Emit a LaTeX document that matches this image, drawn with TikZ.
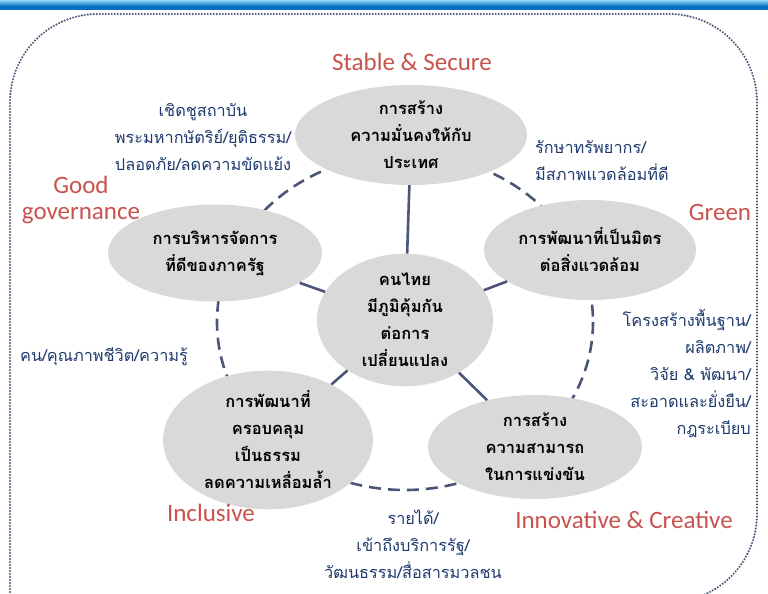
\documentclass[tikz,border=0pt]{standalone}
\usepackage{fontspec}
\setmainfont{Carlito}
\newfontfamily\thai[Script=Thai]{Loma}
\usetikzlibrary{shapes.geometric}
\definecolor{bubgray}{HTML}{D9D9D9}
\definecolor{linkc}{HTML}{4A5578}
\definecolor{navy}{HTML}{1F3A6E}
\definecolor{catred}{HTML}{C9524D}
\definecolor{dotc}{HTML}{4A5675}
\definecolor{barblue}{HTML}{0A6FC2}
\definecolor{barlight}{HTML}{7CC8F0}
\tikzset{
  bub/.style={ellipse, fill=bubgray, draw=none, inner sep=0pt, align=center,
    font=\thai\bfseries\fontsize{16.5}{27}\selectfont, text=black},
  side/.style={inner sep=0pt, font=\thai\fontsize{16.3}{27}\selectfont, text=navy},
  cat/.style={inner sep=0pt, font=\fontsize{25}{26}\selectfont, text=catred},
  link/.style={draw=linkc, line width=2.6pt},
  ring/.style={draw=linkc, line width=2.6pt, dash pattern=on 12pt off 7pt},
  frame/.style={draw=dotc, line width=2.3pt, line cap=round, dash pattern=on 0pt off 3pt}
}
\begin{document}
\begin{tikzpicture}[x=1pt,y=-1pt]
\useasboundingbox (0,0) rectangle (768,594);
% top bar
\shade[top color=barlight, bottom color=barblue] (0,1) rectangle (768,6);
\fill[barblue] (0,6) rectangle (768,10);
% frame
\draw[frame] (10,700) [rounded corners=88pt] -- (10,14) -- (757,14) -- (757,602) -- (300,602);
% dashed ring
\draw[ring] (405,322) ellipse [x radius=188, y radius=168];
% bubbles
\node[bub, minimum width=232pt, minimum height=100pt] (top) at (411,135)
  {การสร้าง\\ความมั่นคงให้กับ\\ประเทศ};
\node[bub, minimum width=214pt, minimum height=97pt] (gov) at (215,253)
  {การบริหารจัดการ\\ที่ดีของภาครัฐ};
\node[bub, minimum width=212pt, minimum height=100pt] (grn) at (590,250)
  {การพัฒนาที่เป็นมิตร\\ต่อสิ่งแวดล้อม};
\node[bub, minimum width=176pt, minimum height=126pt] (ctr) at (405,320)
  {คนไทย\\มีภูมิคุ้มกัน\\ต่อการ\\เปลี่ยนแปลง};
\node[bub, minimum width=210pt, minimum height=100pt] (inc) at (268,440)
  {การพัฒนาที่\\ครอบคลุม\\เป็นธรรม\\ลดความเหลื่อมล้ำ};
\node[bub, minimum width=214pt, minimum height=104pt] (inn) at (535,447)
  {การสร้าง\\ความสามารถ\\ในการแข่งขัน};
% links
\draw[link] (ctr) -- (top);
\draw[link] (ctr) -- (gov);
\draw[link] (ctr) -- (grn);
\draw[link] (ctr) -- (inc);
\draw[link] (ctr) -- (inn);
% category labels
\node[cat] (lss) at (412,62) {Stable \& Secure};
\node[cat, align=center] (lgg) at (81,200) {Good\\governance};
\node[cat] (lgr) at (720,212) {Green};
\node[cat] (lin) at (211,513) {Inclusive};
\node[cat] (lic) at (624,520) {Innovative \& Creative};
% side texts
\node[side, align=center] (s1) at (203,137)
  {เชิดชูสถาบัน\\พระมหากษัตริย์/ยุติธรรม/\\ปลอดภัย/ลดความขัดแย้ง};
\node[side, align=left, anchor=west] (s2) at (535,161)
  {รักษาทรัพยากร/\\มีสภาพแวดล้อมที่ดี};
\node[side, align=right, anchor=east] (s3) at (751,374)
  {โครงสร้างพื้นฐาน/\\ผลิตภาพ/\\วิจัย \& พัฒนา/\\สะอาดและยั่งยืน/\\กฎระเบียบ};
\node[side, anchor=west] (s4) at (20,357) {คน/คุณภาพชีวิต/ความรู้};
\node[side, align=center] (s5) at (413,544)
  {รายได้/\\เข้าถึงบริการรัฐ/\\วัฒนธรรม/สื่อสารมวลชน};
\end{tikzpicture}
\end{document}
